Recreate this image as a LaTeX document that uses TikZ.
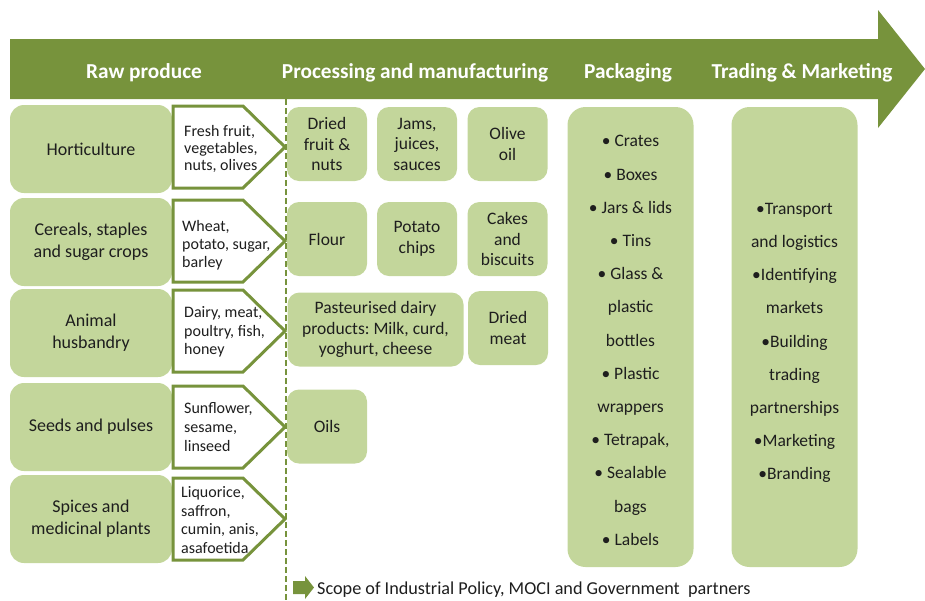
\documentclass[tikz,border=0pt]{standalone}
\usepackage{fontspec}
\setmainfont{Carlito}
\usepackage{xcolor}
\usetikzlibrary{positioning}
\definecolor{bandgreen}{HTML}{77933C}
\definecolor{leafgreen}{HTML}{C3D69B}
\definecolor{inkgray}{HTML}{1E1E1E}
\frenchspacing

\begin{document}
\begin{tikzpicture}[x=1pt,y=-1pt,
  headtext/.style={text=white,font=\fontsize{21.3}{25}\bfseries\selectfont},
  rawbox/.style={fill=leafgreen,rounded corners=14pt,minimum width=162pt,
    minimum height=88pt,align=center,text=inkgray,font=\fontsize{18}{22}\selectfont},
  cropshape/.style={draw=bandgreen,fill=white,line width=3pt,line join=miter},
  croptext/.style={anchor=west,align=left,inner sep=0pt,text=inkgray,
    font=\fontsize{16}{18.7}\selectfont},
  procbox/.style={fill=leafgreen,rounded corners=12pt,minimum width=80pt,
    minimum height=74pt,align=center,inner sep=1pt,text=inkgray,
    font=\fontsize{17.5}{20.5}\selectfont},
  listbox/.style={fill=leafgreen,rounded corners=18pt,minimum width=126pt,
    minimum height=460pt},
  listtext/.style={align=center,inner sep=0pt,text=inkgray,
    font=\fontsize{17.5}{33.2}\selectfont},
  scopeline/.style={draw=bandgreen,line width=2.5pt,dash pattern=on 6pt off 3pt}]
\useasboundingbox (0,0) rectangle (925,600);

% stage arrow along the top
\fill[bandgreen] (10,39) -- (878,39) -- (878,10) -- (925,69) -- (878,128)
  -- (878,99) -- (10,99) -- cycle;
\draw node (hraw) at (144,73) [headtext]{Raw produce};
\draw node (hproc) at (415,73) [headtext]{Processing and manufacturing};
\draw node (hpack) at (628,73) [headtext]{Packaging};
\draw node (htrade) at (802,73) [headtext]{Trading \& Marketing};

% scope boundary
\coordinate (stop) at (286,99);
\coordinate (sbot) at (286,600);
\draw[scopeline] (stop) -- (sbot);

% raw produce
\draw node (hort) at (91,149) [rawbox]{Horticulture};
\draw node (cereal) at (91,242) [rawbox]{Cereals, staples\\and sugar crops};
\draw node (animal) at (91,333) [rawbox]{Animal\\husbandry};
\draw node (seeds) at (91,427) [rawbox]{Seeds and pulses};
\draw node (spice) at (91,519) [rawbox]{Spices and\\medicinal plants};

% crop arrows
\draw[cropshape] (173,106) -- (243,106) -- (285,147) -- (243,188) -- (173,188) -- cycle;
\draw[cropshape] (173,200) -- (243,200) -- (285,241) -- (243,282) -- (173,282) -- cycle;
\draw[cropshape] (173,290) -- (243,290) -- (285,331) -- (243,372) -- (173,372) -- cycle;
\draw[cropshape] (173,386) -- (243,386) -- (285,427) -- (243,468) -- (173,468) -- cycle;
\draw[cropshape] (173,478) -- (243,478) -- (285,519) -- (243,560) -- (173,560) -- cycle;
\draw node (fresh) at (184,149) [croptext,font=\fontsize{16}{16.8}\selectfont]{Fresh fruit,\\vegetables,\\nuts, olives};
\draw node (wheat) at (182,245) [croptext,font=\fontsize{16}{18}\selectfont]{Wheat,\\potato, sugar,\\barley};
\draw node (dairy) at (184,332) [croptext]{Dairy, meat,\\poultry, fish,\\honey};
\draw node (sunfl) at (184,427) [croptext]{Sunflower,\\sesame,\\linseed};
\draw node (liquo) at (181,520) [croptext]{Liquorice,\\saffron,\\cumin, anis,\\asafoetida};

% processing and manufacturing
\draw node (dried) at (327,144) [procbox]{Dried\\fruit \&\\nuts};
\draw node (jams) at (417,144) [procbox]{Jams,\\juices,\\sauces};
\draw node (olive) at (507.5,144) [procbox]{Olive\\oil};
\draw node (flour) at (327,239) [procbox]{Flour};
\draw node (chips) at (417,239) [procbox]{Potato\\chips};
\draw node (cakes) at (507.5,239) [procbox]{Cakes\\and\\biscuits};
\draw node (pasteur) at (375.5,329.5) [procbox,minimum width=176pt]{Pasteurised dairy\\products: Milk, curd,\\yoghurt, cheese};
\draw node (driedmeat) at (508,328) [procbox]{Dried\\meat};
\draw node (oils) at (327,426.5) [procbox]{Oils};

% packaging and trading
\draw node (pack) at (630.5,337) [listbox]{};
\draw node (packlist) at (630.5,340.5) [listtext]{• Crates\\• Boxes\\• Jars \& lids\\• Tins\\• Glass \&\\plastic\\bottles\\• Plastic\\wrappers\\• Tetrapak,\\• Sealable\\bags\\• Labels};
\draw node (trade) at (794.5,337) [listbox]{};
\draw node (tradelist) at (794.5,343) [listtext]{•Transport\\and logistics\\•Identifying\\markets\\•Building\\trading\\partnerships\\•Marketing\\•Branding};

% legend
\fill[bandgreen] (293,581) -- (305,581) -- (305,576) -- (314,587.5) -- (305,599)
  -- (305,594) -- (293,594) -- cycle;
\draw node (scope) at (317,590) [anchor=west,inner sep=0pt,text=inkgray,
  font=\fontsize{18.2}{21}\selectfont]{Scope of Industrial Policy, MOCI and Government\ \ partners};
\end{tikzpicture}
\end{document}
